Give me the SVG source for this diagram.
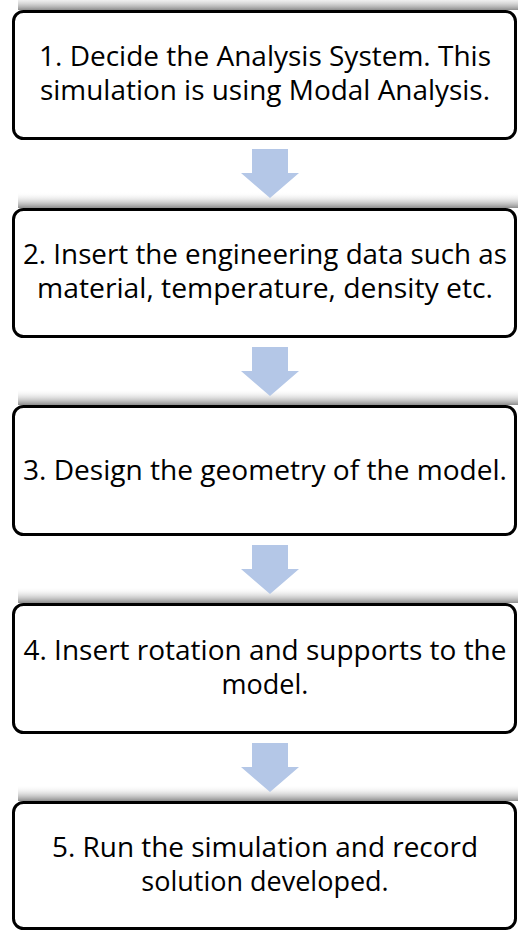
<svg xmlns="http://www.w3.org/2000/svg" width="518" height="931" viewBox="0 0 518 931">
  <style>
    .box { fill: #ffffff; stroke: #000000; stroke-width: 3; }
    .label { font-family: "Open Sans", "Liberation Sans", sans-serif; font-size: 27px; fill: #000000; text-anchor: middle; }
    .arrow { fill: #b4c7e7; }
    .shade { fill: url(#shade); }
  </style>
  <defs>
    <linearGradient id="shade" x1="0" y1="0" x2="0" y2="1">
      <stop offset="0" stop-color="#ffffff" stop-opacity="0"/>
      <stop offset="1" stop-color="#808080" stop-opacity="0.9"/>
    </linearGradient>
  </defs>

  <!-- Step 1 -->
  <g id="step1">
    <rect class="shade" x="18" y="-6" width="500" height="16"/>
    <rect class="box" x="13.5" y="11.5" width="502" height="127" rx="10"/>
    <text class="label" x="265" y="66" textLength="452" lengthAdjust="spacingAndGlyphs">1. Decide the Analysis System. This</text>
    <text class="label" x="265" y="100" textLength="450" lengthAdjust="spacingAndGlyphs">simulation is using Modal Analysis.</text>
  </g>

  <!-- Step 2 -->
  <g id="step2">
    <rect class="shade" x="18" y="192" width="500" height="16"/>
    <rect class="box" x="13.5" y="209.5" width="502" height="127" rx="10"/>
    <text class="label" x="265" y="264" textLength="484" lengthAdjust="spacingAndGlyphs">2. Insert the engineering data such as</text>
    <text class="label" x="265" y="298" textLength="456" lengthAdjust="spacingAndGlyphs">material, temperature, density etc.</text>
  </g>

  <!-- Step 3 -->
  <g id="step3">
    <rect class="shade" x="18" y="389" width="500" height="16"/>
    <rect class="box" x="13.5" y="406.5" width="502" height="128" rx="10"/>
    <text class="label" x="265" y="480" textLength="484" lengthAdjust="spacingAndGlyphs">3. Design the geometry of the model.</text>
  </g>

  <!-- Step 4 -->
  <g id="step4">
    <rect class="shade" x="18" y="587" width="500" height="16"/>
    <rect class="box" x="13.5" y="604.5" width="502" height="128" rx="10"/>
    <text class="label" x="265" y="660" textLength="483" lengthAdjust="spacingAndGlyphs">4. Insert rotation and supports to the</text>
    <text class="label" x="265" y="694">model.</text>
  </g>

  <!-- Step 5 -->
  <g id="step5">
    <rect class="shade" x="18" y="785" width="500" height="16"/>
    <rect class="box" x="13.5" y="802.5" width="502" height="126" rx="10"/>
    <text class="label" x="265" y="857" textLength="426" lengthAdjust="spacingAndGlyphs">5. Run the simulation and record</text>
    <text class="label" x="265" y="891">solution developed.</text>
  </g>

  <!-- Block arrows between steps -->
  <g id="connectors">
    <path class="arrow" d="M252 149 H288 V173 H299 L270 198 L241 173 H252 Z"/>
    <path class="arrow" d="M252 347 H288 V371 H299 L270 396 L241 371 H252 Z"/>
    <path class="arrow" d="M252 545 H288 V569 H299 L270 594 L241 569 H252 Z"/>
    <path class="arrow" d="M252 743 H288 V767 H299 L270 792 L241 767 H252 Z"/>
  </g>
</svg>
